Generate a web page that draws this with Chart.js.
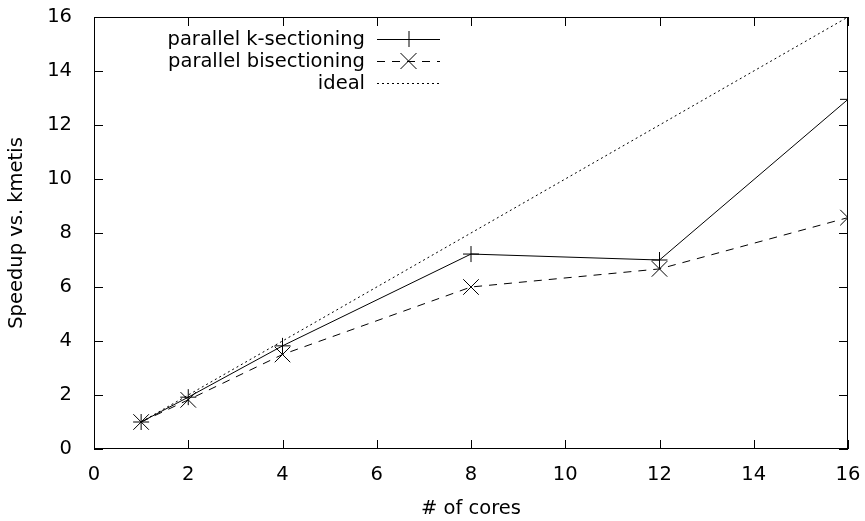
<!DOCTYPE html>
<html>
<head>
<meta charset="utf-8">
<script src="https://cdn.jsdelivr.net/npm/chart.js@4/dist/chart.umd.min.js"></script>
<style>
  html, body { margin: 0; padding: 0; background: #fff; }
  #wrap { width: 865px; height: 521px; }
</style>
</head>
<body>
<div id="wrap"><canvas id="c" width="865" height="521"></canvas></div>
<script>
// values
const cores = [1, 2, 4, 8, 12, 16];
const kSectioning = [1.0, 1.92, 3.82, 7.22, 7.0, 12.95];
const bisectioning = [1.0, 1.82, 3.5, 6.0, 6.67, 8.57];
const idealX = [1, 16];
const idealY = [1, 16];
const xTicks = [0, 2, 4, 6, 8, 10, 12, 14, 16];
const yTicks = [0, 2, 4, 6, 8, 10, 12, 14, 16];

const FONT = "'DejaVu Sans', sans-serif";
const FS = 19.5;
const toXY = (xs, ys) => xs.map((x, i) => ({ x, y: ys[i] }));

const series = [
  { label: 'parallel k-sectioning', dash: [], style: 'cross' },
  { label: 'parallel bisectioning', dash: [8, 7], style: 'crossRot' },
  { label: 'ideal', dash: [2, 3], style: false }
];

// gnuplot-ish frame, inward ticks and legend
const gnuFrame = {
  id: 'gnuFrame',
  afterDraw(chart) {
    const { ctx, chartArea: a, scales } = chart;
    const tl = 9;
    ctx.save();
    ctx.strokeStyle = '#000';
    ctx.lineWidth = 1;
    ctx.strokeRect(a.left + 0.5, a.top + 0.5, a.right - a.left - 1, a.bottom - a.top - 1);
    ctx.beginPath();
    xTicks.forEach(v => {
      const px = Math.round(scales.x.getPixelForValue(v)) + 0.5;
      ctx.moveTo(px, a.bottom); ctx.lineTo(px, a.bottom - tl);
      ctx.moveTo(px, a.top); ctx.lineTo(px, a.top + tl);
    });
    yTicks.forEach(v => {
      const py = Math.round(scales.y.getPixelForValue(v)) + 0.5;
      ctx.moveTo(a.left, py); ctx.lineTo(a.left + tl, py);
      ctx.moveTo(a.right, py); ctx.lineTo(a.right - tl, py);
    });
    ctx.stroke();

    // legend
    ctx.font = FS + 'px ' + FONT;
    ctx.fillStyle = '#000';
    ctx.textAlign = 'right';
    ctx.textBaseline = 'middle';
    const textRight = 365, lx0 = 377, lx1 = 440;
    series.forEach((s, i) => {
      const y = 39 + i * 22;
      ctx.fillText(s.label, textRight, y + 1);
      ctx.setLineDash(s.dash);
      ctx.beginPath();
      ctx.moveTo(lx0, y + 0.5); ctx.lineTo(lx1, y + 0.5);
      ctx.stroke();
      ctx.setLineDash([]);
      const cx = (lx0 + lx1) / 2;
      if (s.style === 'cross') {
        ctx.beginPath();
        ctx.moveTo(cx - 8, y + 0.5); ctx.lineTo(cx + 8, y + 0.5);
        ctx.moveTo(cx + 0.5, y - 8); ctx.lineTo(cx + 0.5, y + 8);
        ctx.stroke();
      } else if (s.style === 'crossRot') {
        ctx.beginPath();
        ctx.moveTo(cx - 8, y - 8); ctx.lineTo(cx + 8, y + 8);
        ctx.moveTo(cx + 8, y - 8); ctx.lineTo(cx - 8, y + 8);
        ctx.stroke();
      }
    });
    ctx.restore();
  }
};

const noPad = s => { s.paddingTop = 0; s.paddingBottom = 0; s.paddingLeft = 0; s.paddingRight = 0; };

new Chart(document.getElementById('c'), {
  type: 'scatter',
  data: {
    datasets: [
      {
        label: series[0].label,
        data: toXY(cores, kSectioning),
        showLine: true,
        borderColor: '#000',
        borderWidth: 1,
        pointStyle: 'cross',
        pointRadius: 8,
        pointBorderColor: '#000',
        pointBorderWidth: 1
      },
      {
        label: series[1].label,
        data: toXY(cores, bisectioning),
        showLine: true,
        borderColor: '#000',
        borderWidth: 1,
        borderDash: series[1].dash,
        pointStyle: 'crossRot',
        pointRadius: 11,
        pointBorderColor: '#000',
        pointBorderWidth: 1
      },
      {
        label: series[2].label,
        data: toXY(idealX, idealY),
        showLine: true,
        borderColor: '#000',
        borderWidth: 1,
        borderDash: series[2].dash,
        pointRadius: 0
      }
    ]
  },
  options: {
    responsive: false,
    animation: false,
    layout: { padding: { top: 17, right: 17, left: 0, bottom: 0 } },
    plugins: {
      legend: { display: false },
      tooltip: { enabled: false }
    },
    scales: {
      x: {
        type: 'linear',
        min: 0, max: 16,
        afterBuildTicks: s => { s.ticks = xTicks.map(v => ({ value: v })); },
        afterFit: s => { s.height = 72; noPad(s); },
        grid: { display: false },
        border: { display: false },
        ticks: { color: '#000', font: { family: FONT, size: FS }, padding: 6, maxRotation: 0 },
        title: { display: true, text: '# of cores', color: '#000', font: { family: FONT, size: FS }, padding: { top: 0, bottom: 0 } }
      },
      y: {
        type: 'linear',
        min: 0, max: 16,
        afterBuildTicks: s => { s.ticks = yTicks.map(v => ({ value: v })); },
        afterFit: s => { s.width = 94; noPad(s); },
        grid: { display: false },
        border: { display: false },
        ticks: { color: '#000', font: { family: FONT, size: FS }, padding: 14 },
        title: { display: true, text: 'Speedup vs. kmetis', color: '#000', font: { family: FONT, size: FS }, padding: { top: 5, bottom: 0 } }
      }
    }
  },
  plugins: [gnuFrame]
});
</script>
</body>
</html>
